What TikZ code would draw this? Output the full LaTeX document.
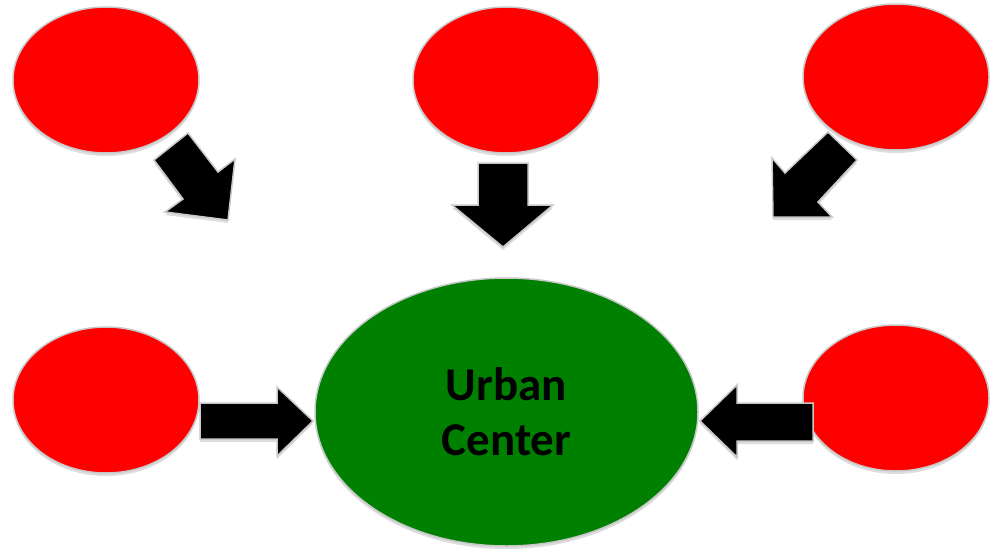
\documentclass[tikz,border=0pt]{standalone}
\usepackage{fontspec}
\newfontfamily\carlito{Carlito}
\usetikzlibrary{shapes.geometric,shadows}
\definecolor{redfill}{RGB}{255,0,0}
\definecolor{greenfill}{RGB}{0,128,0}
\definecolor{rimgray}{RGB}{200,200,200}
\tikzset{
  softshadow/.style={drop shadow={shadow xshift=0pt,shadow yshift=-3pt,opacity=0.22,fill=black!60}},
  redell/.style={ellipse,fill=redfill,draw=rimgray,line width=1.5pt,inner sep=0pt,
    minimum width=186pt,minimum height=146pt,softshadow},
  greenell/.style={ellipse,fill=greenfill,draw=rimgray,line width=1.5pt,inner sep=0pt,
    minimum width=383pt,minimum height=268pt,softshadow,align=center,
    font={\carlito\bfseries\fontsize{47}{55}\selectfont}},
  blockarrow/.style={fill=black,draw=rimgray,line width=1.5pt,line join=miter,softshadow}
}
\begin{document}
\begin{tikzpicture}[x=1pt,y=-1pt]
\useasboundingbox (0,0) rectangle (992,549);
% top arrows (behind the ellipses)
\draw[blockarrow] (154,160) -- (188,133) -- (218,172) -- (235,159) -- (228,220) -- (165,212) -- (183,199) -- cycle;
\draw[blockarrow] (478,163) -- (528,163) -- (528,205) -- (553,205) -- (503,247) -- (452,205) -- (478,205) -- cycle;
\draw[blockarrow] (828,132) -- (857,160) -- (818,202) -- (832,217) -- (773,217) -- (772,158) -- (785,173) -- cycle;
% ellipses
\node[redell] (tl) at (106,80) {};
\node[redell] (tm) at (506,80) {};
\node[redell] (tr) at (896,77) {};
\node[redell] (bl) at (106,400) {};
\node[redell] (br) at (896,398) {};
\node[greenell] (uc) at (506.5,412) {Urban\\Center};
% side arrows
\draw[blockarrow] (200,403) -- (277,403) -- (277,387) -- (313,421) -- (277,456) -- (277,439) -- (200,439) -- cycle;
\draw[blockarrow] (813,403) -- (737,403) -- (737,385) -- (700,421) -- (737,457) -- (737,441) -- (813,441) -- cycle;
\end{tikzpicture}
\end{document}
